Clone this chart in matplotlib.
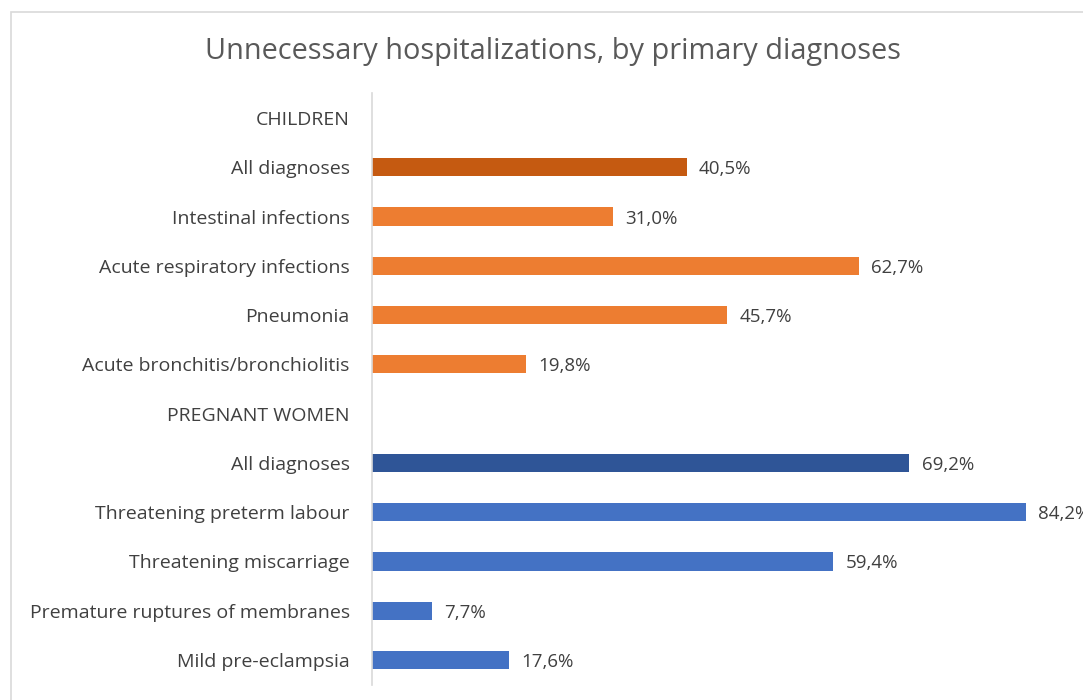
import numpy as np
import matplotlib.pyplot as plt
from matplotlib.patches import Rectangle

plt.rcParams['font.family'] = ['Open Sans', 'DejaVu Sans']

categories = [
    'CHILDREN', 'All diagnoses', 'Intestinal infections', 'Acute respiratory infections',
    'Pneumonia', 'Acute bronchitis/bronchiolitis',
    'PREGNANT WOMEN', 'All diagnoses', 'Threatening preterm labour',
    'Threatening miscarriage', 'Premature ruptures of membranes', 'Mild pre-eclampsia'
]
values = [np.nan, 40.5, 31.0, 62.7, 45.7, 19.8, np.nan, 69.2, 84.2, 59.4, 7.7, 17.6]
colors = ['none', '#C55A11', '#ED7D31', '#ED7D31', '#ED7D31', '#ED7D31',
          'none', '#2F5597', '#4472C4', '#4472C4', '#4472C4', '#4472C4']

fig = plt.figure(figsize=(10.83, 7), dpi=100)
fig.patches.append(Rectangle((11 / 1083, -0.1), 1.2, 1.1 - 12 / 700, transform=fig.transFigure,
                             fill=False, edgecolor='#D9D9D9', linewidth=1.2))

ax = fig.add_axes([372 / 1083, 0.022, 699 / 1083, 0.8446])
y = np.arange(len(categories))
vals = np.nan_to_num(values)
ax.barh(y, vals, height=0.37, color=colors)

for yi, v in zip(y, values):
    if not np.isnan(v):
        ax.text(v + 1.6, yi, f'{v:.1f}%'.replace('.', ','), va='center_baseline', ha='left',
                fontsize=13.5, color='#404040', clip_on=False)

ax.set_yticks(y)
ax.set_yticklabels(categories, fontsize=14, color='#404040', va='center_baseline')
ax.tick_params(axis='y', length=0, pad=16)
ax.set_xticks([])
ax.set_xlim(0, 90)
ax.set_ylim(11.5, -0.5)
for s in ['top', 'right', 'bottom']:
    ax.spines[s].set_visible(False)
ax.spines['left'].set_color('#D9D9D9')
ax.spines['left'].set_linewidth(1.2)

fig.text(553 / 1083, 1 - 52 / 700, 'Unnecessary hospitalizations, by primary diagnoses',
         ha='center', va='center', fontsize=20.8, color='#595959')

fig.savefig('out.png', dpi=100)
